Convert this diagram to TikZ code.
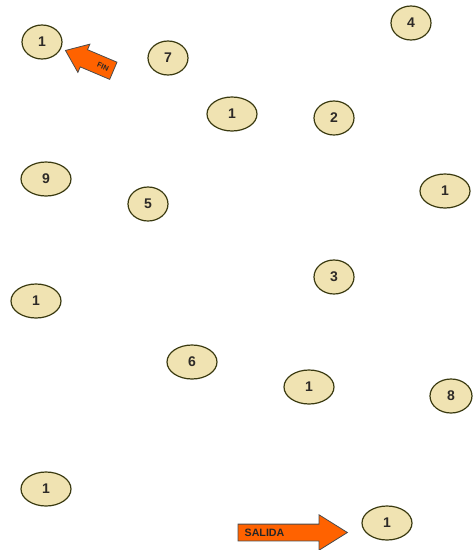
\documentclass[tikz,border=0pt]{standalone}
\usepackage{fontspec}
\setsansfont{Liberation Sans}
\usetikzlibrary{shapes.geometric,shapes.arrows}
\definecolor{egg}{HTML}{F0E3B2}
\definecolor{rim}{HTML}{3A3A10}
\definecolor{orng}{HTML}{FF6200}
\begin{document}
\begin{tikzpicture}[x=0.75pt,y=-0.75pt,
  num/.style={ellipse,draw=rim,fill=egg,line width=0.9pt,inner sep=0pt,
    minimum width=#1*0.75pt,minimum height=25.5pt,
    font=\sffamily\bfseries\fontsize{10.5}{12}\selectfont,text=black!90!olive},
  num/.default=50,
  arr/.style={single arrow,draw=black!70,fill=orng,line width=0.6pt,
    font=\sffamily\bfseries,text=black!85,inner xsep=0pt,
    single arrow head indent=0pt}]
\useasboundingbox (0,0) rectangle (473,550);
\node[num=40] (n1a) at (42,42) {1};
\node[num=40] (n7) at (168,58) {7};
\node[num=40] (n4) at (411,23) {4};
\node[num] (n1b) at (232,114) {1};
\node[num=40] (n2) at (334,118) {2};
\node[num] (n9) at (46,179) {9};
\node[num=40] (n5) at (148,204) {5};
\node[num] (n1c) at (445,191) {1};
\node[num=40] (n3) at (334,277) {3};
\node[num] (n1d) at (36,301) {1};
\node[num] (n6) at (192,362) {6};
\node[num] (n1e) at (309,387) {1};
\node[num=42] (n8) at (451,396) {8};
\node[num] (n1f) at (46,489) {1};
\node[num] (n1g) at (387,523) {1};
\node[arr,text height=4pt,text depth=0pt,inner ysep=4.7pt,
  single arrow head extend=4.5pt,minimum height=39pt,
  single arrow tip angle=75,shape border rotate=180,rotate=-23,
  text width=24pt,align=right,
  font=\sffamily\bfseries\fontsize{5.5}{6}\selectfont] (fin) at (95,63)
  {FIN\hspace*{1pt}};
\node[arr,text height=6pt,text depth=0pt,inner ysep=3pt,
  single arrow head extend=7pt,minimum height=82pt,
  single arrow tip angle=64,text width=56pt,align=left,
  font=\sffamily\bfseries\fontsize{8}{9}\selectfont] (salida) at (286,532.5) {\hspace*{-3pt}SALIDA};
\end{tikzpicture}
\end{document}
